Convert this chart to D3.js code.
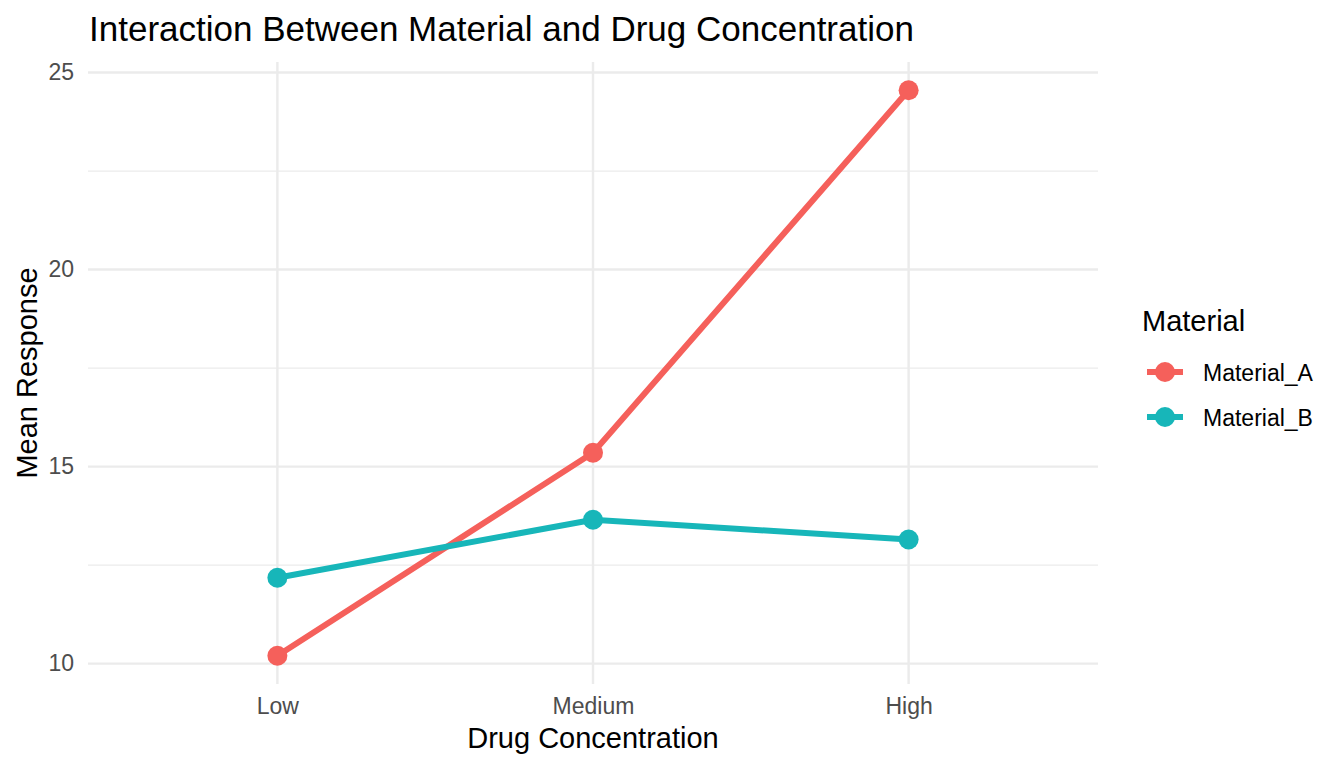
<!DOCTYPE html>
<html>
<head>
<meta charset="utf-8">
<script src="https://cdn.jsdelivr.net/npm/d3@7"></script>
<style>
  body { margin: 0; background: #fff; }
  text { font-family: "Liberation Sans", Arial, sans-serif; }
</style>
</head>
<body>
<div id="chart"></div>
<script>
let categories = ["Low", "Medium", "High"];
let materials = ["Material_A", "Material_B"];
let materialA = [10.2, 15.35, 24.55];
let materialB = [12.18, 13.65, 13.15];
let yTicks = [10, 15, 20, 25];
let yMinor = [12.5, 17.5, 22.5];
let lineColors = ["#F5605B", "#17B6B9"];

let w = 1344;
let h = 768;
let pLeft = 88, pRight = 1098, pTop = 62, pBottom = 684;

let svg = d3.select("#chart")
    .append("svg")
    .attr("width", w)
    .attr("height", h);

let x = d3.scalePoint()
    .domain(categories)
    .range([pLeft, pRight])
    .padding(0.6);

let lo = 10.2, hi = 24.55, pad = (hi - lo) * 0.05;
let y = d3.scaleLinear()
    .domain([lo - pad, hi + pad])
    .range([pBottom, pTop]);

// grid
svg.selectAll("line.minor")
    .data(yMinor)
    .enter()
    .append("line")
    .attr("x1", pLeft).attr("x2", pRight)
    .attr("y1", d => y(d)).attr("y2", d => y(d))
    .attr("stroke", "#EBEBEB")
    .attr("stroke-width", 1.2);

svg.selectAll("line.majorY")
    .data(yTicks)
    .enter()
    .append("line")
    .attr("x1", pLeft).attr("x2", pRight)
    .attr("y1", d => y(d)).attr("y2", d => y(d))
    .attr("stroke", "#EBEBEB")
    .attr("stroke-width", 2.4);

svg.selectAll("line.majorX")
    .data(categories)
    .enter()
    .append("line")
    .attr("x1", d => x(d)).attr("x2", d => x(d))
    .attr("y1", pTop).attr("y2", pBottom)
    .attr("stroke", "#EBEBEB")
    .attr("stroke-width", 2.4);

// axes (text only, like theme_minimal)
let yAxis = svg.append("g")
    .attr("transform", "translate(" + pLeft + ",0)")
    .call(d3.axisLeft(y).tickValues(yTicks).tickSize(0).tickPadding(14));
yAxis.select(".domain").remove();
yAxis.selectAll("text")
    .attr("font-size", "23px")
    .attr("fill", "#4D4D4D")
    .attr("font-family", "Liberation Sans, Arial, sans-serif");

let xAxis = svg.append("g")
    .attr("transform", "translate(0," + pBottom + ")")
    .call(d3.axisBottom(x).tickSize(0).tickPadding(13.5));
xAxis.select(".domain").remove();
xAxis.selectAll("text")
    .attr("font-size", "23px")
    .attr("fill", "#4D4D4D")
    .attr("font-family", "Liberation Sans, Arial, sans-serif");

// lines and points
let series = [materialA, materialB];
let line = d3.line()
    .x((d, i) => x(categories[i]))
    .y(d => y(d));

series.forEach(function (s, k) {
    svg.append("path")
        .datum(s)
        .attr("d", line)
        .attr("fill", "none")
        .attr("stroke", lineColors[k])
        .attr("stroke-width", 6);
});

series.forEach(function (s, k) {
    svg.selectAll("circle.s" + k)
        .data(s)
        .enter()
        .append("circle")
        .attr("class", "s" + k)
        .attr("cx", (d, i) => x(categories[i]))
        .attr("cy", d => y(d))
        .attr("r", 10)
        .attr("fill", lineColors[k]);
});

// titles
svg.append("text")
    .text("Interaction Between Material and Drug Concentration")
    .attr("x", 89)
    .attr("y", 41)
    .attr("font-size", "35px")
    .attr("fill", "black");

svg.append("text")
    .text("Drug Concentration")
    .attr("x", (pLeft + pRight) / 2)
    .attr("y", 748)
    .attr("text-anchor", "middle")
    .attr("font-size", "29px")
    .attr("fill", "black");

svg.append("text")
    .text("Mean Response")
    .attr("transform", "translate(37," + ((pTop + pBottom) / 2) + ") rotate(-90)")
    .attr("text-anchor", "middle")
    .attr("font-size", "29px")
    .attr("fill", "black");

// legend
svg.append("text")
    .text("Material")
    .attr("x", 1142)
    .attr("y", 331)
    .attr("font-size", "29px")
    .attr("fill", "black");

let legend = svg.selectAll("g.legend")
    .data(materials)
    .enter()
    .append("g")
    .attr("transform", (d, i) => "translate(1147," + (372 + i * 45) + ")");

legend.append("line")
    .attr("x1", 0).attr("x2", 36)
    .attr("y1", 0).attr("y2", 0)
    .attr("stroke", (d, i) => lineColors[i])
    .attr("stroke-width", 6);

legend.append("circle")
    .attr("cx", 18).attr("cy", 0).attr("r", 10)
    .attr("fill", (d, i) => lineColors[i]);

legend.append("text")
    .text(d => d)
    .attr("x", 56)
    .attr("y", 8.5)
    .attr("font-size", "23px")
    .attr("fill", "black");
</script>
</body>
</html>
